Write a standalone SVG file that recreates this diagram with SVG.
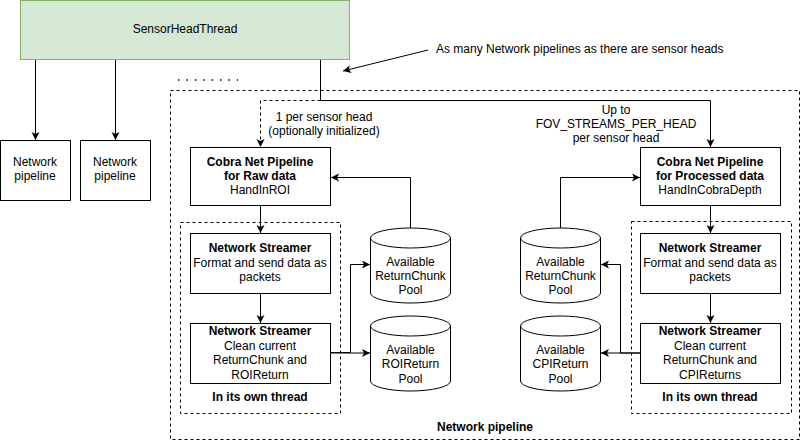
<svg xmlns="http://www.w3.org/2000/svg" width="802" height="445" viewBox="0 0 802 445">
<style>
text{font-family:"Liberation Sans",Arial,Helvetica,sans-serif;font-size:12px;fill:#000;text-anchor:middle;dominant-baseline:central}
.b{font-weight:bold}
.box{fill:#fff;stroke:#000;stroke-width:1}
.dash{fill:none;stroke:#000;stroke-width:1;stroke-dasharray:3 3}
.edge{fill:none;stroke:#000;stroke-width:1}
.cyl{fill:#fff;stroke:#000;stroke-width:1}
</style>
<defs>
<marker id="arr" markerWidth="10" markerHeight="10" refX="8" refY="4" orient="auto" markerUnits="userSpaceOnUse">
<path d="M0,0 L8,4 L0,8 L2,4 Z" fill="#000"/>
</marker>
</defs>
<rect width="802" height="445" fill="#fff"/>

<g id="container-network-pipeline">
<rect class="dash" x="170.5" y="90.5" width="629" height="349"/>
<text class="b" x="485" y="427">Network pipeline</text>
</g>
<g id="dots">
<line x1="178" y1="80" x2="238" y2="80" stroke="#000" stroke-width="1.5" stroke-dasharray="1.5 6.9"/>
</g>

<g id="sensor-head-thread">
<rect x="20.5" y="0.5" width="329" height="59" fill="#d5e8d4" stroke="#82b366"/>
<text x="185" y="29">SensorHeadThread</text>
</g>

<g id="np1">
<rect class="box" x="0.5" y="140.5" width="70" height="60"/>
<text x="35" y="162">Network</text>
<text x="35" y="176">pipeline</text>
</g>
<g id="np2">
<rect class="box" x="80.5" y="140.5" width="70" height="60"/>
<text x="115" y="162">Network</text>
<text x="115" y="176">pipeline</text>
</g>

<g id="annotation">
<text x="436" y="49" style="text-anchor:start">As many Network pipelines as there are sensor heads</text>
</g>

<g id="thread-left">
<rect class="dash" x="180.5" y="222.5" width="160" height="191"/>
<text class="b" x="260" y="397">In its own thread</text>
</g>
<g id="thread-right">
<rect class="dash" x="631.5" y="221.5" width="160" height="192"/>
<text class="b" x="710" y="397">In its own thread</text>
</g>

<g id="cobra-raw">
<rect class="box" x="190.5" y="147.5" width="140" height="58"/>
<text class="b" x="260" y="162">Cobra Net Pipeline</text>
<text class="b" x="260" y="176">for Raw data</text>
<text x="260" y="190">HandInROI</text>
</g>
<g id="streamer-raw-1">
<rect class="box" x="190.5" y="233.5" width="140" height="60"/>
<text class="b" x="260" y="248">Network Streamer</text>
<text x="260" y="263">Format and send data as</text>
<text x="260" y="277">packets</text>
</g>
<g id="streamer-raw-2">
<rect class="box" x="190.5" y="323.5" width="140" height="60"/>
<text class="b" x="260" y="331">Network Streamer</text>
<text x="260" y="346">Clean current</text>
<text x="260" y="360">ReturnChunk and</text>
<text x="260" y="375">ROIReturn</text>
</g>

<g id="cobra-processed">
<rect class="box" x="640.5" y="147.5" width="140" height="58"/>
<text class="b" x="710" y="162">Cobra Net Pipeline</text>
<text class="b" x="710" y="176">for Processed data</text>
<text x="710" y="190">HandInCobraDepth</text>
</g>
<g id="streamer-proc-1">
<rect class="box" x="640.5" y="233.5" width="140" height="60"/>
<text class="b" x="710" y="248">Network Streamer</text>
<text x="710" y="263">Format and send data as</text>
<text x="710" y="277">packets</text>
</g>
<g id="streamer-proc-2">
<rect class="box" x="640.5" y="323.5" width="140" height="60"/>
<text class="b" x="710" y="331">Network Streamer</text>
<text x="710" y="346">Clean current</text>
<text x="710" y="360">ReturnChunk and</text>
<text x="710" y="375">CPIReturns</text>
</g>

<g id="pool-rc-left">
<path class="cyl" d="M370.5,238 A40,10 0 0 1 450.5,238 V293 A40,10 0 0 1 370.5,293 Z"/>
<path class="edge" d="M370.5,238 A40,10 0 0 0 450.5,238"/>
<text x="410.5" y="262">Available</text>
<text x="410.5" y="276">ReturnChunk</text>
<text x="410.5" y="290">Pool</text>
</g>
<g id="pool-roi-left">
<path class="cyl" d="M370.5,326 A40,10 0 0 1 450.5,326 V381 A40,10 0 0 1 370.5,381 Z"/>
<path class="edge" d="M370.5,326 A40,10 0 0 0 450.5,326"/>
<text x="410.5" y="350">Available</text>
<text x="410.5" y="364">ROIReturn</text>
<text x="410.5" y="379">Pool</text>
</g>
<g id="pool-rc-right">
<path class="cyl" d="M520.5,238 A40,10 0 0 1 600.5,238 V293 A40,10 0 0 1 520.5,293 Z"/>
<path class="edge" d="M520.5,238 A40,10 0 0 0 600.5,238"/>
<text x="560.5" y="262">Available</text>
<text x="560.5" y="276">ReturnChunk</text>
<text x="560.5" y="290">Pool</text>
</g>
<g id="pool-cpi-right">
<path class="cyl" d="M520.5,326 A40,10 0 0 1 600.5,326 V381 A40,10 0 0 1 520.5,381 Z"/>
<path class="edge" d="M520.5,326 A40,10 0 0 0 600.5,326"/>
<text x="560.5" y="350">Available</text>
<text x="560.5" y="364">CPIReturn</text>
<text x="560.5" y="379">Pool</text>
</g>

<g id="connectors">
<path class="edge" d="M35.5,60 V140" marker-end="url(#arr)"/>
<path class="edge" d="M115.5,60 V140" marker-end="url(#arr)"/>
<path class="edge" d="M428,50 L343,71" marker-end="url(#arr)"/>
<path class="edge" d="M320.5,60 V100.5 H710.5 V147" marker-end="url(#arr)"/>
<path class="edge" d="M320.5,100.5 H260.5 V147" stroke-dasharray="3 3" marker-end="url(#arr)"/>
<path class="edge" d="M260.5,206 V233" marker-end="url(#arr)"/>
<path class="edge" d="M260.5,294 V323" marker-end="url(#arr)"/>
<path class="edge" d="M710.5,206 V233" marker-end="url(#arr)"/>
<path class="edge" d="M710.5,294 V323" marker-end="url(#arr)"/>
<path class="edge" d="M410.5,228 V177.5 H331" marker-end="url(#arr)"/>
<path class="edge" d="M560.5,228 V177.5 H640" marker-end="url(#arr)"/>
<path class="edge" d="M331,352.5 H350.5 V264.5 H370" marker-end="url(#arr)"/>
<path class="edge" d="M331,353 H370" marker-end="url(#arr)"/>
<path class="edge" d="M640,353 H620.5 V264.5 H601" marker-end="url(#arr)"/>
<path class="edge" d="M640,353 H601" marker-end="url(#arr)"/>
<text x="324" y="117">1 per sensor head</text>
<text x="324" y="131">(optionally initialized)</text>
<text x="616" y="110">Up to</text>
<text x="616" y="124">FOV_STREAMS_PER_HEAD</text>
<text x="616" y="138">per sensor head</text>
</g>
</svg>
